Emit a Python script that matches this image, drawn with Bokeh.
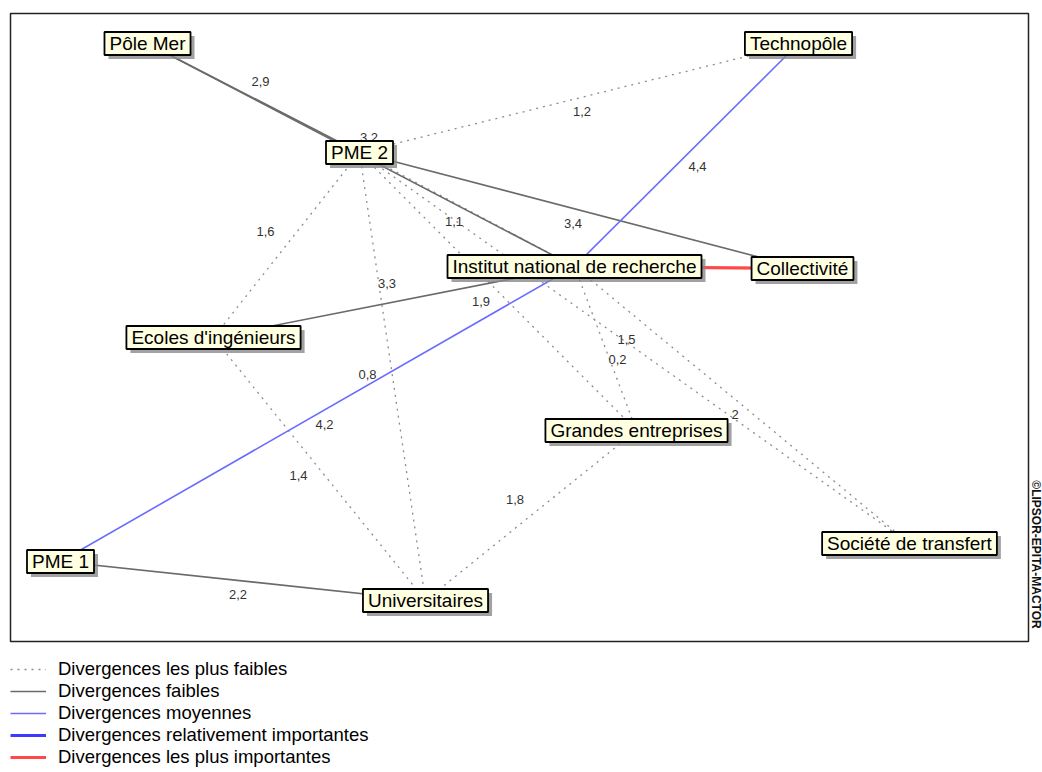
import math
from bokeh.plotting import figure
from bokeh.models import ColumnDataSource, Range1d, Legend, LegendItem
from bokeh.core.properties import value
from bokeh.embed import file_html
from bokeh.resources import INLINE

# ---------------- data ----------------
actors = ["Pôle Mer", "Technopôle", "PME 2", "Institut national de recherche",
          "Collectivité", "Ecoles d'ingénieurs", "Grandes entreprises",
          "Société de transfert", "PME 1", "Universitaires"]
actor_x = [147, 798, 359, 574, 802, 213, 636, 909, 60, 425]
actor_y = [43, 43, 152, 266, 268, 337, 430, 543, 561, 600]

edge_from = ["Pôle Mer", "Pôle Mer", "PME 2", "Ecoles d'ingénieurs", "PME 1",
             "Technopôle", "Institut national de recherche", "Institut national de recherche",
             "PME 2", "PME 2", "PME 2", "PME 2", "PME 2", "PME 2",
             "Institut national de recherche", "Institut national de recherche",
             "Ecoles d'ingénieurs", "Grandes entreprises"]
edge_to = ["PME 2", "Institut national de recherche", "Collectivité",
           "Institut national de recherche", "Universitaires",
           "Institut national de recherche", "PME 1", "Collectivité",
           "Technopôle", "Ecoles d'ingénieurs", "Universitaires",
           "Institut national de recherche", "Grandes entreprises", "Société de transfert",
           "Grandes entreprises", "Société de transfert",
           "Universitaires", "Universitaires"]
edge_label = ["2,9", "3,2", "3,4", "3,3", "2,2",
              "4,4", "4,2", "",
              "1,2", "1,6", "0,8", "1,1", "1,9", "1,5",
              "0,2", "2", "1,4", "1,8"]
edge_class = ["faibles", "faibles", "faibles", "faibles", "faibles",
              "moyennes", "moyennes", "plus_importantes",
              "plus_faibles", "plus_faibles", "plus_faibles", "plus_faibles", "plus_faibles",
              "plus_faibles", "plus_faibles", "plus_faibles", "plus_faibles", "plus_faibles"]

class_keys = ["plus_faibles", "faibles", "moyennes", "rel_importantes", "plus_importantes"]
class_labels = ["Divergences les plus faibles", "Divergences faibles", "Divergences moyennes",
                "Divergences relativement importantes", "Divergences les plus importantes"]

# ---------------- layout / style ----------------
label_offsets = [(7, -17), (8, -18), (-8, 13), (-7, -19), (-5, 13),
                 (11, 11), (7, 10), (0, 0),
                 (3, 13), (-21, -14), (-25, -2), (-13, 12), (-17, 10), (-8, -9),
                 (12, 11), (-7, 9), (-21, 6), (-16, -16)]
class_style = {
    "plus_faibles": dict(line_color="#8c8c8c", line_width=1.3, line_dash="2 5"),
    "faibles": dict(line_color="#6a6a6a", line_width=1.6),
    "moyennes": dict(line_color="#6b6bff", line_width=1.6),
    "rel_importantes": dict(line_color="#3b3bff", line_width=3.2),
    "plus_importantes": dict(line_color="#ff4848", line_width=3.2),
}
FONT_NAME = "Liberation Sans"
FONT = value(FONT_NAME)
W, H = 1042, 772

p = figure(width=W, height=H, output_backend="svg", toolbar_location=None,
           x_range=Range1d(0, W), y_range=Range1d(H, 0),
           min_border=0, outline_line_color=None)
p.axis.visible = False
p.grid.visible = False
p.background_fill_color = "white"
p.border_fill_color = "white"

# plot frame
p.quad(left=[10], right=[1028], top=[13], bottom=[641], fill_color=None,
       line_color="#222222", line_width=1.5)

pos = {a: (x, y) for a, x, y in zip(actors, actor_x, actor_y)}

renderers = {}
for key in class_keys:
    idx = [i for i, c in enumerate(edge_class) if c == key]
    if idx:
        data = dict(x0=[pos[edge_from[i]][0] for i in idx], y0=[pos[edge_from[i]][1] for i in idx],
                    x1=[pos[edge_to[i]][0] for i in idx], y1=[pos[edge_to[i]][1] for i in idx])
    else:  # class present in legend only
        nan = float("nan")
        data = dict(x0=[nan], y0=[nan], x1=[nan], y1=[nan])
    renderers[key] = p.segment("x0", "y0", "x1", "y1", source=ColumnDataSource(data),
                               **class_style[key])

# edge value labels
lx, ly, lt = [], [], []
for i, t in enumerate(edge_label):
    if not t:
        continue
    (xa, ya), (xb, yb) = pos[edge_from[i]], pos[edge_to[i]]
    dx, dy = label_offsets[i]
    lx.append((xa + xb) / 2 + dx)
    ly.append((ya + yb) / 2 + dy)
    lt.append(t)
p.text(x=lx, y=ly, text=lt, text_font=FONT, text_font_size="13px", text_color="#333333",
       text_align="center", text_baseline="middle")

# actor boxes: shadow then box
node_src = ColumnDataSource(dict(x=actor_x, y=actor_y, name=actors))
p.text(x="x", y="y", text="name", source=node_src, x_offset=4, y_offset=4,
       text_alpha=0, text_font=FONT, text_font_size="19px",
       text_align="center", text_baseline="middle", padding=(5, 1),
       background_fill_color="#8a8a8a", background_fill_alpha=0.8, border_line_color=None)
p.text(x="x", y="y", text="name", source=node_src,
       text_color="black", text_font=FONT, text_font_size="19px",
       text_align="center", text_baseline="middle", padding=(5, 1),
       background_fill_color="#FFFFE1", border_line_color="black", border_line_width=1.8)

# copyright
p.text(x=[1035.5], y=[554], text=["©LIPSOR-EPITA-MACTOR"], angle=-math.pi / 2,
       text_font=FONT, text_font_size="12px", text_font_style="bold", text_color="#111111",
       text_align="center", text_baseline="middle")

legend = Legend(items=[LegendItem(label=lab, renderers=[renderers[k]])
                       for k, lab in zip(class_keys, class_labels)],
                location=(10, 4), label_text_font=FONT_NAME, label_text_font_size="18.5px",
                label_text_color="black", glyph_width=36, glyph_height=22, label_height=22,
                label_standoff=12, spacing=0, padding=0, margin=0,
                border_line_color=None, background_fill_alpha=0)
p.add_layout(legend)

open("out.html", "w").write(file_html(p, INLINE))
